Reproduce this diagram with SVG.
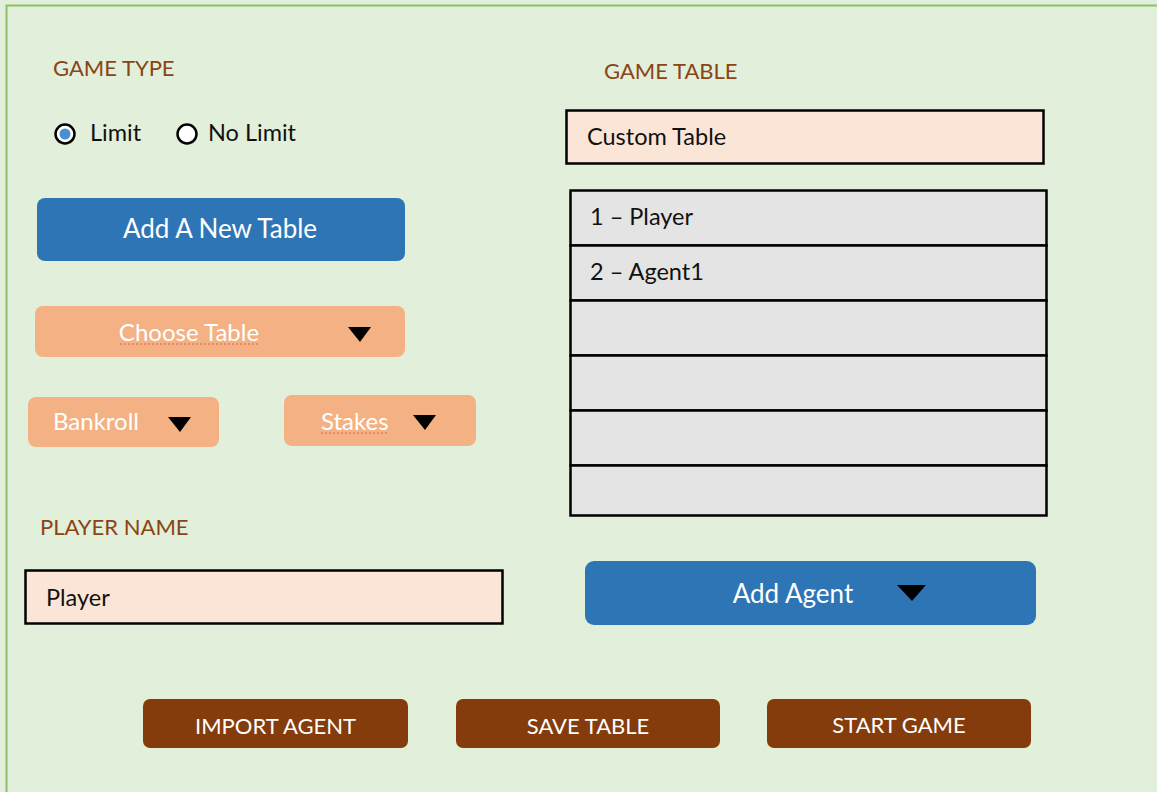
<svg xmlns="http://www.w3.org/2000/svg" width="1157" height="792" viewBox="0 0 1157 792">
<style>
text{font-family:Lato,"Open Sans","Liberation Sans",sans-serif}
.lbl{fill:#8A4416;font-size:22px}
.blk{fill:#111;font-size:23.5px}
.wht{fill:#fff}
.blue{fill:#2E75B6}
.peach{fill:#F4B183}
.brown{fill:#843C0C}
.input{fill:#FBE5D6;stroke:#000;stroke-width:2.5}
.row{fill:#E4E4E4;stroke:#000;stroke-width:2.5}
.tri{fill:#000}
</style>
<rect x="0" y="0" width="1157" height="792" fill="#E2EFDA"/>
<path d="M6.5 792 V5.5 H1157" fill="none" stroke="#8CC068" stroke-width="2"/>

<g id="game-type">
<text class="lbl" x="53" y="76">GAME TYPE</text>
</g>
<g id="radio-limit">
<circle cx="65" cy="134" r="9.5" fill="#fff" stroke="#000" stroke-width="2.5"/>
<circle cx="65" cy="134" r="5.5" fill="#4A8FD6"/>
<text class="blk" x="90" y="141">Limit</text>
</g>
<g id="radio-nolimit">
<circle cx="187" cy="134" r="9.5" fill="#fff" stroke="#000" stroke-width="2.5"/>
<text class="blk" x="208" y="141">No Limit</text>
</g>
<g id="add-table">
<rect class="blue" x="37" y="198" width="368" height="63" rx="8"/>
<text class="wht" x="220" y="238" text-anchor="middle" font-size="26">Add A New Table</text>
</g>
<g id="choose-table">
<rect class="peach" x="35" y="306" width="370" height="51" rx="8"/>
<text class="wht" x="189" y="341" text-anchor="middle" font-size="24">Choose Table</text>
<line x1="120" y1="344" x2="258" y2="344" stroke="#E06040" stroke-width="1" stroke-dasharray="2 2"/>
<path class="tri" d="M348 327 H371 L360 342 Z"/>
</g>
<g id="bankroll">
<rect class="peach" x="28" y="397" width="191" height="50" rx="8"/>
<text class="wht" x="53" y="430" font-size="24">Bankroll</text>
<path class="tri" d="M168 417 H191 L180 432 Z"/>
</g>
<g id="stakes">
<rect class="peach" x="284" y="395" width="192" height="51" rx="8"/>
<text class="wht" x="321" y="430" font-size="24">Stakes</text>
<line x1="321" y1="433" x2="388" y2="433" stroke="#E06040" stroke-width="1" stroke-dasharray="2 2"/>
<path class="tri" d="M413 415 H436 L425 430 Z"/>
</g>
<g id="game-table">
<text class="lbl" x="604" y="79">GAME TABLE</text>
</g>
<g id="custom-table">
<rect class="input" x="566.5" y="110.5" width="477" height="53"/>
<text class="blk" x="587" y="145">Custom Table</text>
</g>
<g id="table">
<rect class="row" x="570.5" y="190.5" width="476" height="55"/>
<rect class="row" x="570.5" y="245.5" width="476" height="55"/>
<rect class="row" x="570.5" y="300.5" width="476" height="55"/>
<rect class="row" x="570.5" y="355.5" width="476" height="55"/>
<rect class="row" x="570.5" y="410.5" width="476" height="55"/>
<rect class="row" x="570.5" y="465.5" width="476" height="50"/>
<text class="blk" x="590" y="225">1 – Player</text>
<text class="blk" x="590" y="280">2 – Agent1</text>
</g>
<g id="player-name">
<text class="lbl" x="40" y="535">PLAYER NAME</text>
</g>
<g id="player-input">
<rect class="input" x="25.5" y="570.5" width="477" height="53"/>
<text class="blk" x="46" y="606">Player</text>
</g>
<g id="add-agent">
<rect class="blue" x="585" y="561" width="451" height="64" rx="9"/>
<text class="wht" x="793" y="603" text-anchor="middle" font-size="26">Add Agent</text>
<path class="tri" d="M897 585 H926 L912 601 Z"/>
</g>
<g id="import-agent">
<rect class="brown" x="143" y="699" width="265" height="49" rx="7"/>
<text class="wht" x="275.5" y="734" text-anchor="middle" font-size="22">IMPORT AGENT</text>
</g>
<g id="save-table">
<rect class="brown" x="456" y="699" width="264" height="49" rx="7"/>
<text class="wht" x="588" y="734" text-anchor="middle" font-size="22">SAVE TABLE</text>
</g>
<g id="start-game">
<rect class="brown" x="767" y="699" width="264" height="49" rx="7"/>
<text class="wht" x="899" y="733" text-anchor="middle" font-size="22">START GAME</text>
</g>
<g id="connectors"></g>
</svg>
